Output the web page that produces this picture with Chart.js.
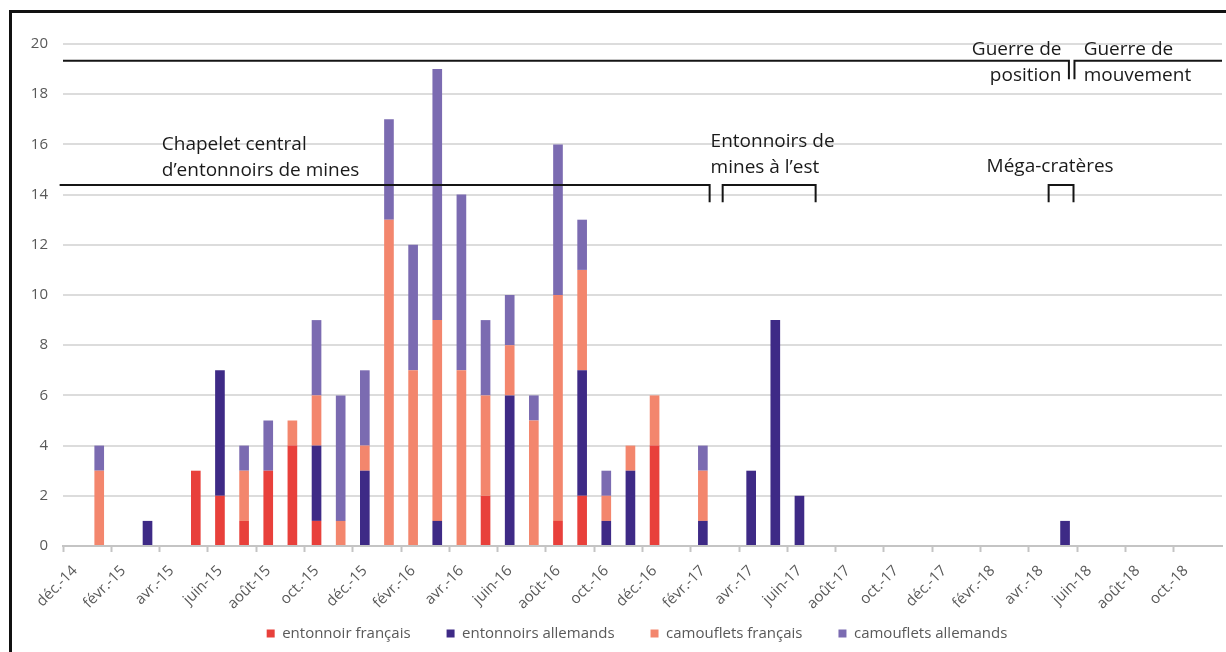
<!DOCTYPE html>
<html lang="fr">
<head>
<meta charset="utf-8">
<title>Entonnoirs et camouflets</title>
<script src="https://cdn.jsdelivr.net/npm/chart.js@4.4.1/dist/chart.umd.min.js"></script>
<style>
    html, body { margin: 0; padding: 0; background: #fff; overflow: hidden; }
    #wrap { position: absolute; left: 0; top: 0; width: 1226px; height: 652px; }
    #frame { position: absolute; left: 9px; top: 10px; width: 1300px; height: 700px;
             border-top: 3px solid #111; border-left: 3px solid #111; pointer-events: none; }
</style>
</head>
<body>
<div id="wrap">
    <canvas id="chart"></canvas>
    <div id="frame"></div>
</div>
<script>
// months, déc. 2014 -> nov. 2018 (one bar slot per month)
const months = [
    "déc.-14", "janv.-15", "févr.-15", "mars-15", "avr.-15", "mai-15", "juin-15", "juil.-15",
    "août-15", "sept.-15", "oct.-15", "nov.-15", "déc.-15", "janv.-16", "févr.-16", "mars-16",
    "avr.-16", "mai-16", "juin-16", "juil.-16", "août-16", "sept.-16", "oct.-16", "nov.-16",
    "déc.-16", "janv.-17", "févr.-17", "mars-17", "avr.-17", "mai-17", "juin-17", "juil.-17",
    "août-17", "sept.-17", "oct.-17", "nov.-17", "déc.-17", "janv.-18", "févr.-18", "mars-18",
    "avr.-18", "mai-18", "juin-18", "juil.-18", "août-18", "sept.-18", "oct.-18", "nov.-18"
];

const entonnoirFrancais = [
    0, 0, 0, 0, 0, 3, 2, 1, 3, 4, 1, 0, 0, 0, 0, 0, 0, 2, 0, 0, 1, 2, 0, 0,
    4, 0, 0, 0, 0, 0, 0, 0, 0, 0, 0, 0, 0, 0, 0, 0, 0, 0, 0, 0, 0, 0, 0, 0
];
const entonnoirsAllemands = [
    0, 0, 0, 1, 0, 0, 5, 0, 0, 0, 3, 0, 3, 0, 0, 1, 0, 0, 6, 0, 0, 5, 1, 3,
    0, 0, 1, 0, 3, 9, 2, 0, 0, 0, 0, 0, 0, 0, 0, 0, 0, 1, 0, 0, 0, 0, 0, 0
];
const camoufletsFrancais = [
    0, 3, 0, 0, 0, 0, 0, 2, 0, 1, 2, 1, 1, 13, 7, 8, 7, 4, 2, 5, 9, 4, 1, 1,
    2, 0, 2, 0, 0, 0, 0, 0, 0, 0, 0, 0, 0, 0, 0, 0, 0, 0, 0, 0, 0, 0, 0, 0
];
const camoufletsAllemands = [
    0, 1, 0, 0, 0, 0, 0, 1, 2, 0, 3, 5, 3, 4, 5, 10, 7, 3, 2, 1, 6, 2, 1, 0,
    0, 0, 1, 0, 0, 0, 0, 0, 0, 0, 0, 0, 0, 0, 0, 0, 0, 0, 0, 0, 0, 0, 0, 0
];

const yMax = 20;
const yStep = 2;

// period annotations, x in month-slot units, y in axis units
const periodLines = [
    [[-0.5, 19.33], [41.16, 19.33], [41.16, 18.6]],
    [[41.39, 18.6], [41.39, 19.33], [47.5, 19.33]],
    [[-0.64, 14.38], [26.28, 14.38], [26.28, 13.7]],
    [[26.82, 13.7], [26.82, 14.38], [30.67, 14.38], [30.67, 13.7]],
    [[40.32, 13.7], [40.32, 14.38], [41.35, 14.38], [41.35, 13.7]]
];
const periodTexts = [
    { text: "Chapelet central", x: 3.59, y: 15.78, align: "left" },
    { text: "d’entonnoirs de mines", x: 3.59, y: 14.76, align: "left" },
    { text: "Entonnoirs de", x: 26.32, y: 15.9, align: "left" },
    { text: "mines à l’est", x: 26.32, y: 14.86, align: "left" },
    { text: "Méga-cratères", x: 37.75, y: 14.89, align: "left" },
    { text: "Guerre de", x: 40.85, y: 19.57, align: "right" },
    { text: "position", x: 40.85, y: 18.53, align: "right" },
    { text: "Guerre de", x: 41.77, y: 19.57, align: "left" },
    { text: "mouvement", x: 41.77, y: 18.53, align: "left" }
];

const FONT = "'Open Sans', 'Noto Sans', sans-serif";
const GREY = "#595959";

const periodPlugin = {
    id: "periods",
    afterDraw(chart) {
        const { ctx, scales: { x, y } } = chart;
        const x0 = x.getPixelForValue(0);
        const step = x.getPixelForValue(1) - x0;
        const px = (i) => x0 + i * step;

        ctx.save();
        ctx.strokeStyle = "#151515";
        ctx.lineWidth = 2;
        periodLines.forEach((pts) => {
            ctx.beginPath();
            pts.forEach(([i, v], k) => {
                const X = px(i), Y = y.getPixelForValue(v);
                if (k === 0) ctx.moveTo(X, Y); else ctx.lineTo(X, Y);
            });
            ctx.stroke();
        });

        ctx.fillStyle = "#1a1a1a";
        ctx.font = "19px " + FONT;
        ctx.textBaseline = "alphabetic";
        periodTexts.forEach((t) => {
            ctx.textAlign = t.align;
            ctx.fillText(t.text, px(t.x), y.getPixelForValue(t.y));
        });
        ctx.restore();
    }
};

// small layout tweaks: legend a bit to the right, x labels not clipped by the legend box
const layoutTweaks = {
    id: "layoutTweaks",
    afterLayout(chart) {
        if (chart.legend) {
            chart.legend.left += 26;
            chart.legend.right += 26;
            chart.legend.top += 2;
            chart.legend.bottom += 2;
        }
        chart.scales.x.bottom = chart.height;
    }
};

const makeSet = (label, data, color) => ({
    label, data,
    backgroundColor: color,
    borderWidth: 0,
    barPercentage: 0.4,
    categoryPercentage: 1.0,
    stack: "s"
});

new Chart(document.getElementById("chart"), {
    type: "bar",
    data: {
        labels: months,
        datasets: [
            makeSet("entonnoir français", entonnoirFrancais, "#e8403b"),
            makeSet("entonnoirs allemands", entonnoirsAllemands, "#3e2a86"),
            makeSet("camouflets français", camoufletsFrancais, "#f3866d"),
            makeSet("camouflets allemands", camoufletsAllemands, "#7b6bb1")
        ]
    },
    options: {
        responsive: true,
        maintainAspectRatio: false,
        animation: false,
        layout: { padding: { top: 44, left: 0, right: 4, bottom: 3 } },
        plugins: {
            tooltip: { enabled: false },
            legend: {
                position: "bottom",
                labels: {
                    boxWidth: 8,
                    boxHeight: 8,
                    padding: 36,
                    color: GREY,
                    font: { family: FONT, size: 15 }
                }
            }
        },
        scales: {
            x: {
                stacked: true,
                offset: true,
                afterFit: (s) => {
                    s.height = 42;
                    // rotated labels must not squeeze the plot sideways
                    s.paddingLeft = 0;
                    s.paddingRight = 0;
                },
                grid: {
                    offset: true,
                    drawOnChartArea: false,
                    drawTicks: true,
                    tickLength: 6,
                    tickWidth: 2,
                    tickColor: (c) => (c.index % 2 === 0 ? "#c4c4c4" : "rgba(0,0,0,0)")
                },
                border: { display: true, color: "#c4c4c4", width: 2 },
                ticks: {
                    autoSkip: false,
                    minRotation: 45,
                    maxRotation: 45,
                    padding: 10,
                    color: GREY,
                    font: { family: FONT, size: 15 },
                    callback: function (v, i) { return i % 2 === 0 ? this.getLabelForValue(v) : ""; }
                }
            },
            y: {
                stacked: true,
                min: 0,
                max: yMax,
                afterFit: (s) => { s.width = 63; },
                grid: { color: "#dcdcdc", lineWidth: 2, drawTicks: false },
                border: { display: false },
                ticks: {
                    stepSize: yStep,
                    padding: 15,
                    color: GREY,
                    font: { family: FONT, size: 15 }
                }
            }
        }
    },
    plugins: [periodPlugin, layoutTweaks]
});
</script>
</body>
</html>
